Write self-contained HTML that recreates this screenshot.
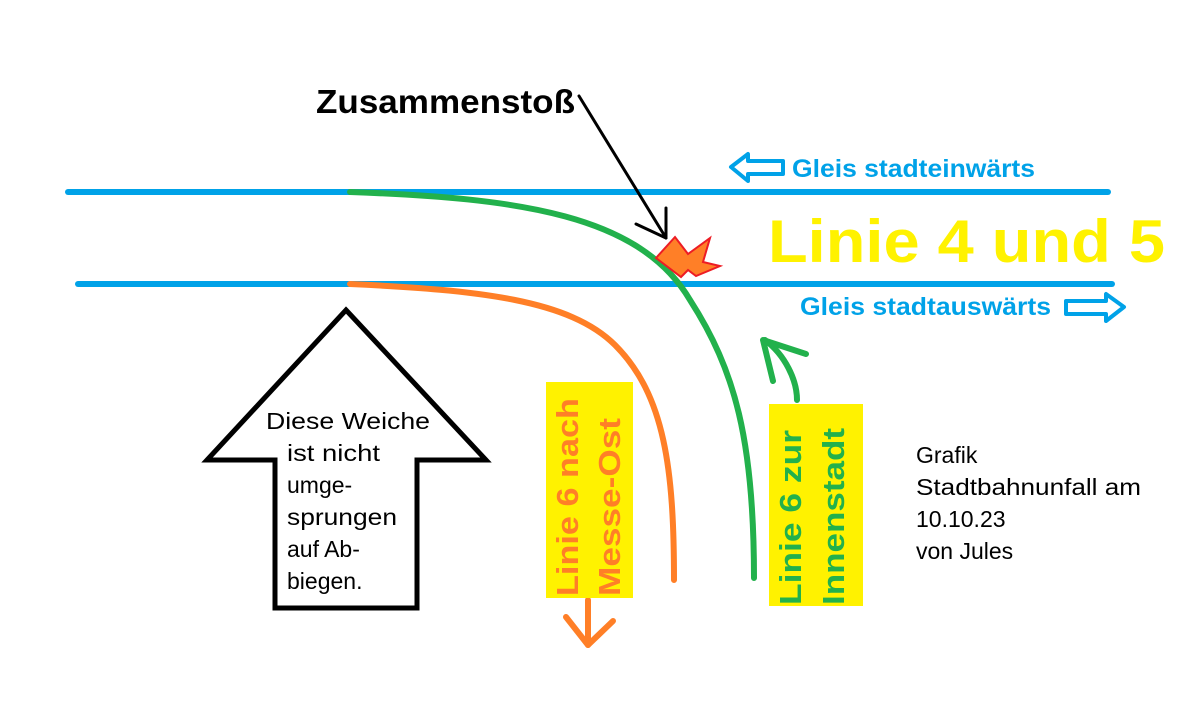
<!DOCTYPE html>
<html><head><meta charset="utf-8"><style>
html,body{margin:0;padding:0;background:#fff;}
svg{display:block;}
text{font-family:"Liberation Sans",sans-serif;}
</style></head><body>
<svg width="1200" height="724" viewBox="0 0 1200 724" xmlns="http://www.w3.org/2000/svg">
<rect width="1200" height="724" fill="#fff"/>
<line x1="68" y1="192" x2="1108" y2="192" stroke="#00a2e8" stroke-width="6" stroke-linecap="round"/>
<line x1="78" y1="284" x2="1112" y2="284" stroke="#00a2e8" stroke-width="6" stroke-linecap="round"/>
<path d="M350,192 C520,198 640,215 690,300 C735,370 754,440 754,578" fill="none" stroke="#22b14c" stroke-width="6" stroke-linecap="round"/>
<path d="M350,284 C480,290 570,300 615,345 C665,395 674,470 674,580" fill="none" stroke="#ff7f27" stroke-width="6" stroke-linecap="round"/>
<path d="M797,400 C797,380 785,355 765,340" fill="none" stroke="#22b14c" stroke-width="6" stroke-linecap="round"/>
<path d="M806,354 L763,340 L773,381" fill="none" stroke="#22b14c" stroke-width="6" stroke-linecap="round" stroke-linejoin="round"/>
<line x1="588" y1="600" x2="588" y2="645" stroke="#ff7f27" stroke-width="6" stroke-linecap="round"/>
<path d="M566,617 L588,645 L613,621" fill="none" stroke="#ff7f27" stroke-width="6" stroke-linecap="round" stroke-linejoin="round"/>
<line x1="579" y1="96" x2="666" y2="238" stroke="#000" stroke-width="3" stroke-linecap="round"/>
<path d="M666,208 L666,238 L636,224" fill="none" stroke="#000" stroke-width="3" stroke-linecap="round" stroke-linejoin="round"/>
<polygon points="656,258 675,237 688,254 710,238 703,262 720,266 696,276 688,270 681,277" fill="#ff7f27" stroke="#ed1c24" stroke-width="2"/>
<polygon points="346,310 486,460 417,460 417,608 275,608 275,460 207,460" fill="#fff" stroke="#000" stroke-width="5"/>
<polygon points="731,167 748,154 748,161 783,161 783,174 748,174 748,181" fill="none" stroke="#00a2e8" stroke-width="4" stroke-linejoin="round"/>
<polygon points="1124,307 1106,294 1106,301 1066,301 1066,314 1106,314 1106,321" fill="none" stroke="#00a2e8" stroke-width="4" stroke-linejoin="round"/>
<text x="316" y="113" font-size="33" font-weight="bold" fill="#000" textLength="259" lengthAdjust="spacingAndGlyphs">Zusammenstoß</text>
<text x="792" y="177" font-size="25" font-weight="bold" fill="#00a2e8" textLength="243" lengthAdjust="spacingAndGlyphs">Gleis stadteinwärts</text>
<text x="800" y="315" font-size="25" font-weight="bold" fill="#00a2e8" textLength="251" lengthAdjust="spacingAndGlyphs">Gleis stadtauswärts</text>
<text x="768" y="262" font-size="60" font-weight="bold" fill="#fff200" textLength="397" lengthAdjust="spacingAndGlyphs">Linie 4 und 5</text>
<g font-size="23" fill="#000">
<text x="266" y="429" textLength="164" lengthAdjust="spacingAndGlyphs">Diese Weiche</text>
<text x="287" y="461" textLength="93" lengthAdjust="spacingAndGlyphs">ist nicht</text>
<text x="287" y="493">umge-</text>
<text x="287" y="525" textLength="110" lengthAdjust="spacingAndGlyphs">sprungen</text>
<text x="287" y="557">auf Ab-</text>
<text x="287" y="589">biegen.</text>
<text x="916" y="463">Grafik</text>
<text x="916" y="495" textLength="225" lengthAdjust="spacingAndGlyphs">Stadtbahnunfall am</text>
<text x="916" y="527">10.10.23</text>
<text x="916" y="559">von Jules</text>
</g>
<rect x="546" y="382" width="87" height="216" fill="#fff200"/>
<g transform="translate(578,596) rotate(-90)"><text x="0" y="0" font-size="31" font-weight="bold" fill="#ff7f27" textLength="198" lengthAdjust="spacingAndGlyphs">Linie 6 nach</text></g>
<g transform="translate(620,596) rotate(-90)"><text x="0" y="0" font-size="31" font-weight="bold" fill="#ff7f27" textLength="178" lengthAdjust="spacingAndGlyphs">Messe-Ost</text></g>
<rect x="769" y="404" width="94" height="202" fill="#fff200"/>
<g transform="translate(801,605) rotate(-90)"><text x="0" y="0" font-size="31" font-weight="bold" fill="#22b14c" textLength="175" lengthAdjust="spacingAndGlyphs">Linie 6 zur</text></g>
<g transform="translate(844,605) rotate(-90)"><text x="0" y="0" font-size="31" font-weight="bold" fill="#22b14c" textLength="177" lengthAdjust="spacingAndGlyphs">Innenstadt</text></g>
</svg>
</body></html>
